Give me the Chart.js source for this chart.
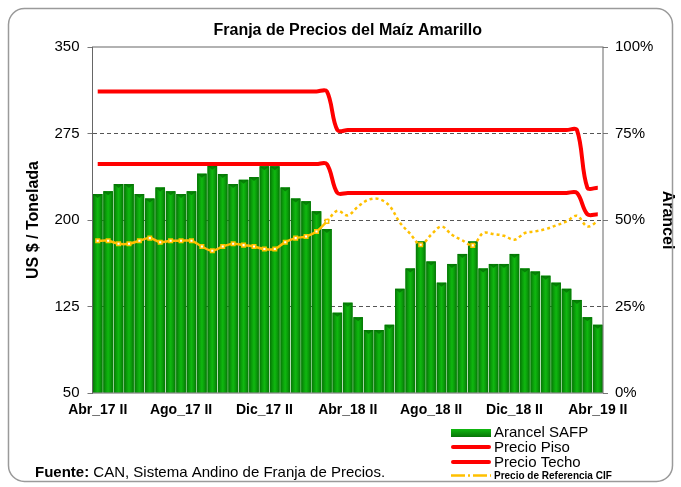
<!DOCTYPE html>
<html>
<head>
<meta charset="utf-8">
<script src="https://cdn.jsdelivr.net/npm/chart.js@4.4.1/dist/chart.umd.min.js"></script>
<style>
  html, body { margin: 0; padding: 0; background: #fff; }
  #wrap { width: 681px; height: 487px; }
</style>
</head>
<body>
<div id="wrap"><canvas id="chart" width="681" height="487"></canvas></div>
<script>
// quincenas, Abr_17 II .. Abr_19 II
const periods = [
  'Abr_17 II', 'May_17 I', 'May_17 II', 'Jun_17 I', 'Jun_17 II', 'Jul_17 I', 'Jul_17 II', 'Ago_17 I',
  'Ago_17 II', 'Sep_17 I', 'Sep_17 II', 'Oct_17 I', 'Oct_17 II', 'Nov_17 I', 'Nov_17 II', 'Dic_17 I',
  'Dic_17 II', 'Ene_18 I', 'Ene_18 II', 'Feb_18 I', 'Feb_18 II', 'Mar_18 I', 'Mar_18 II', 'Abr_18 I',
  'Abr_18 II', 'May_18 I', 'May_18 II', 'Jun_18 I', 'Jun_18 II', 'Jul_18 I', 'Jul_18 II', 'Ago_18 I',
  'Ago_18 II', 'Sep_18 I', 'Sep_18 II', 'Oct_18 I', 'Oct_18 II', 'Nov_18 I', 'Nov_18 II', 'Dic_18 I',
  'Dic_18 II', 'Ene_19 I', 'Ene_19 II', 'Feb_19 I', 'Feb_19 II', 'Mar_19 I', 'Mar_19 II', 'Abr_19 I',
  'Abr_19 II'
];

// Arancel SAFP (%)
const arancel = [
  57.5, 58.3, 60.4, 60.4, 57.5, 56.2, 59.4, 58.3, 57.5, 58.3, 63.4, 65.7, 63.3, 60.4, 61.6,
  62.4, 65.5, 65.5, 59.4, 56.2, 55.4, 52.5, 47.4, 23.2, 26.1, 21.9, 18.2, 18.2, 19.7, 30.1,
  36.0, 43.8, 38.0, 31.9, 37.3, 40.2, 43.8, 36.0, 37.3, 37.3, 40.2, 36.0, 35.1, 33.9, 31.9,
  30.1, 26.9, 21.9, 19.7
];

// US$ / t
const precioPiso = [
  248.5, 248.5, 248.5, 248.5, 248.5, 248.5, 248.5, 248.5, 248.5, 248.5, 248.5, 248.5, 248.5, 248.5, 248.5,
  248.5, 248.5, 248.5, 248.5, 248.5, 248.5, 248.5, 248.5, 223.5, 223.5, 223.5, 223.5, 223.5, 223.5, 223.5,
  223.5, 223.5, 223.5, 223.5, 223.5, 223.5, 223.5, 223.5, 223.5, 223.5, 223.5, 223.5, 223.5, 223.5, 223.5,
  223.5, 223.5, 205, 205
];
const precioTecho = [
  311.5, 311.5, 311.5, 311.5, 311.5, 311.5, 311.5, 311.5, 311.5, 311.5, 311.5, 311.5, 311.5, 311.5, 311.5,
  311.5, 311.5, 311.5, 311.5, 311.5, 311.5, 311.5, 311.5, 278, 278, 278, 278, 278, 278, 278,
  278, 278, 278, 278, 278, 278, 278, 278, 278, 278, 278, 278, 278, 278, 278,
  278, 278, 228, 228
];
const precioCIF = [
  182, 182, 179.4, 179.4, 182, 184.3, 180.8, 182, 182, 182, 177, 173.3, 177, 179.4, 178.2,
  177, 174.8, 174.8, 180.8, 184.3, 185.7, 190, 198.8, 208, 204, 211.8, 217.6, 218.2, 212.4, 197.9,
  188, 178.5, 187.2, 194.4, 187.2, 182.3, 178, 188.7, 187.8, 186.3, 182.9, 188.7, 190.1, 192.1, 195.3,
  198.8, 203.7, 194.4, 198.8
];
const cifMarked = [0,1,2,3,4,5,6,7,8,9,10,11,12,13,14,15,16,17,18,19,20,21,22,31,36];

const leftTicks = [50, 125, 200, 275, 350];
const rightTicks = [0, 25, 50, 75, 100];

const NARROW = "'Liberation Sans Narrow', 'Arial Narrow', 'Liberation Sans', sans-serif";
const GREEN = '#0aa60a';
const DARK_GREEN = '#067406';
const RED = '#ff0000';
const GOLD = '#ffc000';

// shading on the bars, following the positions the bar controller computed
const barShade = {
  id: 'barShade',
  afterDatasetDraw(chart, args) {
    const ds = chart.data.datasets[args.index];
    if (ds.type && ds.type !== 'bar') return;
    const { ctx } = chart;
    ctx.save();
    args.meta.data.forEach(bar => {
      const { x, y, base, width } = bar.getProps(['x', 'y', 'base', 'width'], true);
      const l = x - width / 2, r = x + width / 2;
      const g = ctx.createLinearGradient(l, 0, r, 0);
      g.addColorStop(0, DARK_GREEN);
      g.addColorStop(0.25, '#0a9c0a');
      g.addColorStop(0.5, '#10b810');
      g.addColorStop(0.75, '#0a9c0a');
      g.addColorStop(1, DARK_GREEN);
      ctx.fillStyle = g;
      ctx.fillRect(l, y, width, base - y);
      ctx.fillStyle = 'rgba(0,90,0,0.55)';
      ctx.beginPath();
      ctx.moveTo(l, y);
      ctx.lineTo(r, y);
      ctx.lineTo(x, y + 4);
      ctx.closePath();
      ctx.fill();
    });
    ctx.restore();
  }
};

const decorations = {
  id: 'decorations',
  afterDraw(chart) {
    const { ctx, chartArea: a } = chart;
    ctx.save();
    // plot frame
    ctx.strokeStyle = '#666';
    ctx.lineWidth = 1;
    ctx.strokeRect(a.left, a.top, a.right - a.left, a.bottom - a.top);
    // outer rounded frame
    ctx.strokeStyle = '#9a9a9a';
    ctx.lineWidth = 1.5;
    ctx.beginPath();
    ctx.roundRect(8.5, 8.5, 664, 473, 16);
    ctx.stroke();
    // title
    ctx.fillStyle = '#000';
    ctx.textAlign = 'center';
    ctx.textBaseline = 'middle';
    ctx.font = 'bold 16px ' + NARROW;
    ctx.fillText('Franja de Precios del Maíz Amarillo', (a.left + a.right) / 2, 31);
    // legend
    ctx.textAlign = 'left';
    const lx = 451, lw = 40, tx = 494;
    const lg = ctx.createLinearGradient(0, 429, 0, 437);
    lg.addColorStop(0, '#10b810');
    lg.addColorStop(1, DARK_GREEN);
    ctx.fillStyle = lg;
    ctx.fillRect(lx, 429, lw, 8);
    ctx.strokeStyle = RED;
    ctx.lineWidth = 4;
    ctx.lineCap = 'round';
    [447, 462].forEach(y => {
      ctx.beginPath(); ctx.moveTo(lx + 2, y); ctx.lineTo(lx + lw - 2, y); ctx.stroke();
    });
    ctx.strokeStyle = GOLD;
    ctx.lineWidth = 2.5;
    ctx.lineCap = 'butt';
    ctx.setLineDash([14, 3, 2, 3]);
    ctx.beginPath(); ctx.moveTo(lx, 475.5); ctx.lineTo(lx + lw, 475.5); ctx.stroke();
    ctx.setLineDash([]);
    ctx.fillStyle = '#000';
    ctx.font = '15px ' + NARROW;
    ctx.fillText('Arancel SAFP', tx, 433);
    ctx.fillText('Precio Piso', tx, 448);
    ctx.fillText('Precio Techo', tx, 463);
    ctx.font = 'bold 10px ' + NARROW;
    ctx.fillText('Precio de Referencia CIF', tx, 476);
    // source
    ctx.font = 'bold 15px ' + NARROW;
    ctx.fillText('Fuente:', 35, 473);
    const w = ctx.measureText('Fuente: ').width;
    ctx.font = '15px ' + NARROW;
    ctx.fillText('CAN, Sistema Andino de Franja de Precios.', 35 + w, 473);
    ctx.restore();
  }
};

new Chart(document.getElementById('chart'), {
  type: 'bar',
  data: {
    labels: periods,
    datasets: [
      {
        label: 'Precio Techo',
        type: 'line',
        data: precioTecho,
        yAxisID: 'y',
        borderColor: RED,
        borderWidth: 4,
        tension: 0.35,
        pointRadius: 0,
        order: 0
      },
      {
        label: 'Precio Piso',
        type: 'line',
        data: precioPiso,
        yAxisID: 'y',
        borderColor: RED,
        borderWidth: 4,
        tension: 0.35,
        pointRadius: 0,
        order: 1
      },
      {
        label: 'Precio de Referencia CIF',
        type: 'line',
        data: precioCIF,
        yAxisID: 'y',
        borderColor: GOLD,
        borderWidth: 2.5,
        tension: 0.35,
        pointStyle: 'rect',
        pointRadius: ctx => cifMarked.includes(ctx.dataIndex) ? 2.5 : 0,
        pointBackgroundColor: '#fff',
        pointBorderColor: GOLD,
        pointBorderWidth: 1.5,
        segment: {
          borderDash: ctx => ctx.p0DataIndex >= 22 ? [3, 3] : undefined
        },
        order: 2
      },
      {
        label: 'Arancel SAFP',
        type: 'bar',
        data: arancel,
        yAxisID: 'y1',
        backgroundColor: GREEN,
        borderColor: DARK_GREEN,
        borderWidth: 0,
        barPercentage: 0.92,
        categoryPercentage: 1,
        order: 3
      }
    ]
  },
  options: {
    responsive: false,
    animation: false,
    layout: { padding: { top: 47, left: 0, right: 0, bottom: 0 } },
    plugins: {
      legend: { display: false },
      title: { display: false },
      tooltip: { enabled: false }
    },
    scales: {
      x: {
        grid: { display: false },
        border: { display: false },
        ticks: {
          autoSkip: false,
          maxRotation: 0,
          padding: 1,
          color: '#000',
          font: { family: NARROW, size: 14, weight: 'bold' },
          callback: (v, i) => i % 8 === 0 ? periods[i] : ''
        },
        afterFit: s => { s.height = 94; }
      },
      y: {
        position: 'left',
        min: 50,
        max: 350,
        afterBuildTicks: s => { s.ticks = leftTicks.map(v => ({ value: v })); },
        grid: {
          color: c => (c.tick && (c.tick.value === 50 || c.tick.value === 350)) ? 'rgba(0,0,0,0)' : '#555',
          lineWidth: 1,
          drawTicks: true,
          tickLength: 5,
          tickColor: '#777',
          tickBorderDash: []
        },
        border: { display: false, dash: [4, 3] },
        ticks: {
          padding: 8,
          color: '#000',
          font: { family: NARROW, size: 15 }
        },
        title: {
          display: true,
          text: 'US $ / Tonelada',
          color: '#000',
          font: { family: NARROW, size: 16, weight: 'bold' },
          padding: { top: 24, bottom: 0 }
        },
        afterFit: s => { s.width = 92.5; }
      },
      y1: {
        position: 'right',
        min: 0,
        max: 100,
        afterBuildTicks: s => { s.ticks = rightTicks.map(v => ({ value: v })); },
        grid: {
          drawOnChartArea: false,
          drawTicks: true,
          tickLength: 5,
          color: '#777'
        },
        border: { display: false },
        ticks: {
          padding: 7,
          color: '#000',
          font: { family: NARROW, size: 15 },
          callback: v => v + '%'
        },
        title: {
          display: true,
          text: 'Arancel',
          color: '#000',
          font: { family: NARROW, size: 16, weight: 'bold' },
          padding: { top: 4, bottom: 0 }
        },
        afterFit: s => { s.width = 78; }
      }
    }
  },
  plugins: [barShade, decorations]
});
</script>
</body>
</html>
